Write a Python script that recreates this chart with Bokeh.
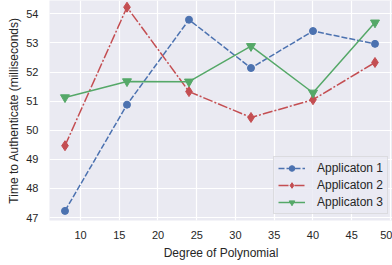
from bokeh.plotting import figure
from bokeh.embed import file_html
from bokeh.resources import INLINE
from bokeh.models import Legend, LegendItem, Range1d, SingleIntervalTicker

degrees = [8, 16, 24, 32, 40, 48]
app1 = [47.23, 50.88, 53.80, 52.14, 53.41, 52.97]
app2 = [49.47, 54.23, 51.33, 50.44, 51.05, 52.33]
app3 = [51.13, 51.68, 51.67, 52.89, 51.29, 53.70]
labels = ["Applicaton 1", "Applicaton 2", "Applicaton 3"]

BLUE, RED, GREEN = "#4C72B0", "#C44E52", "#55A868"
FONT = "Liberation Sans"
TXT = "#262626"

p = figure(width=392, height=265, output_backend="svg", toolbar_location=None,
           x_range=Range1d(6.0, 50.26), y_range=Range1d(46.9, 54.46),
           min_border_left=49, min_border_right=0, min_border_top=0, min_border_bottom=45,
           background_fill_color="#EAEAF2", border_fill_color="white", outline_line_color=None)

p.xaxis.ticker = SingleIntervalTicker(interval=5)
p.yaxis.ticker = SingleIntervalTicker(interval=1)
for ax in (p.xaxis, p.yaxis):
    ax.axis_line_color = None
    ax.major_tick_line_color = None
    ax.minor_tick_line_color = None
    ax.major_tick_out = 0
    ax.major_tick_in = 0
    ax.minor_tick_out = 0
    ax.minor_tick_in = 0
    ax.major_label_text_font = FONT
    ax.major_label_text_font_size = "11px"
    ax.major_label_text_color = TXT
    ax.axis_label_text_font = FONT
    ax.axis_label_text_font_size = "12px"
    ax.axis_label_text_color = TXT
    ax.axis_label_text_font_style = "normal"
p.xaxis.axis_label = "Degree of Polynomial"
p.yaxis.axis_label = "Time to Authenticate (milliseconds)"
p.xaxis.major_label_standoff = 10
p.yaxis.major_label_standoff = 11
p.xaxis.axis_label_standoff = 4
p.yaxis.axis_label_standoff = 2

p.grid.grid_line_color = "white"
p.grid.grid_line_width = 1.2

l1 = p.line(degrees, app1, line_color=BLUE, line_width=1.5, line_dash="6 2")
m1 = p.scatter(degrees, app1, marker="circle", size=7, fill_color=BLUE, line_color=BLUE)
l2 = p.line(degrees, app2, line_color=RED, line_width=1.5, line_dash="10 2 2 2")
m2 = p.scatter(degrees, app2, marker="diamond", size=10, fill_color=RED, line_color=RED)
l3 = p.line(degrees, app3, line_color=GREEN, line_width=1.5)
m3 = p.scatter(degrees, app3, marker="inverted_triangle", size=9, fill_color=GREEN, line_color=GREEN)

legend = Legend(items=[LegendItem(label=labels[0], renderers=[l1, m1]),
                       LegendItem(label=labels[1], renderers=[l2, m2]),
                       LegendItem(label=labels[2], renderers=[l3, m3])],
                location=(224, 6))
legend.background_fill_color = "#EAEAF2"
legend.background_fill_alpha = 0.8
legend.border_line_color = "#CCCCCC"
legend.border_line_width = 1
legend.label_text_font = FONT
legend.label_text_font_size = "12px"
legend.label_text_color = TXT
legend.glyph_width = 27
legend.glyph_height = 14
legend.label_height = 14
legend.spacing = 3
legend.padding = 4
legend.label_standoff = 12
legend.margin = 0
p.add_layout(legend)

open("out.html", "w").write(file_html(p, INLINE))
